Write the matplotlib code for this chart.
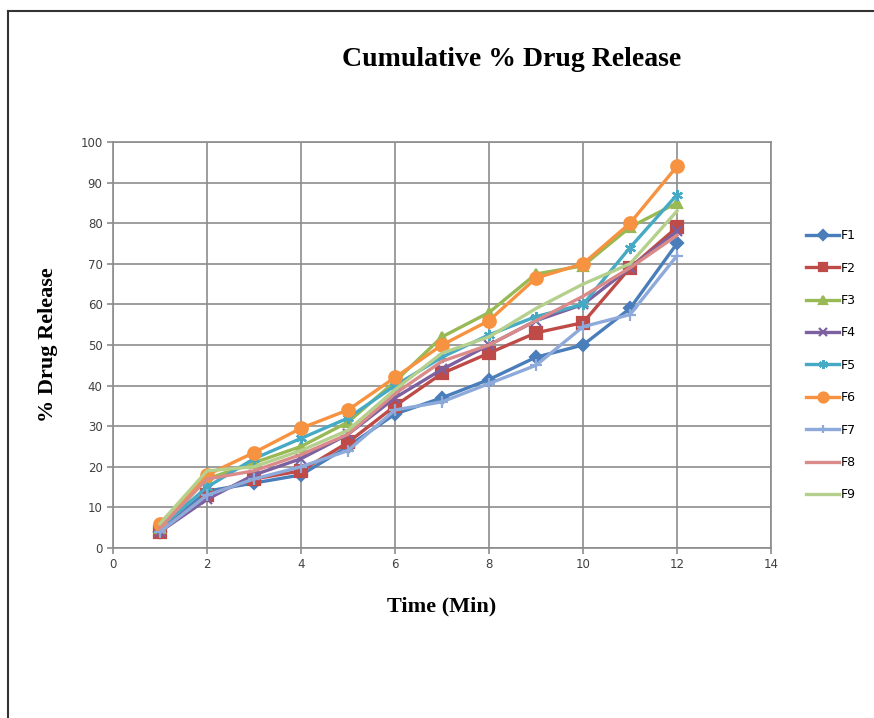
import matplotlib
matplotlib.use("Agg")
import matplotlib.pyplot as plt
from matplotlib.lines import Line2D

# release data
time_min = [1, 2, 3, 4, 5, 6, 7, 8, 9, 10, 11, 12]
f1 = [4, 14, 16, 18, 25, 33, 37, 41.5, 47, 50, 59, 75]
f2 = [4, 13, 17, 19, 26, 35, 43, 48, 53, 55.5, 69, 79]
f3 = [5, 17, 21, 25, 31, 41, 52, 58, 67.5, 69.5, 79, 85]
f4 = [4, 12, 18, 22, 28, 37, 44, 50, 56, 60, 69, 78]
f5 = [5, 15, 22, 27, 32, 40, 47, 52.5, 57, 60, 74, 87]
f6 = [6, 18, 23.5, 29.5, 34, 42, 50, 56, 66.5, 70, 80, 94]
f7 = [4, 13, 17, 20, 24, 34, 36, 40.5, 45, 54.5, 57.5, 72]
f8 = [5, 17, 19, 23, 28, 38, 46, 50, 56, 62, 69, 77]
f9 = [6, 19, 20, 24, 29, 39, 48, 52, 59, 65, 70, 83]
series_names = ["F1", "F2", "F3", "F4", "F5", "F6", "F7", "F8", "F9"]
x_ticks = [0, 2, 4, 6, 8, 10, 12, 14]
y_ticks = [0, 10, 20, 30, 40, 50, 60, 70, 80, 90, 100]

series = [f1, f2, f3, f4, f5, f6, f7, f8, f9]
colors = ['#4A7EBB', '#BE4B48', '#98B954', '#7D60A0', '#46AAC5',
          '#F69240', '#8EAADB', '#DA8B89', '#B5D08C']
markers = ['D', 's', '^', 'x', (6, 2, 0), 'o', '+', None, None]
msizes = [6, 8, 7, 7, 8, 9, 8, 0, 0]

fig = plt.figure(figsize=(8.74, 7.18), dpi=100)
ax = fig.add_axes([113 / 874, 1 - 548 / 718, (771 - 113) / 874, (548 - 142) / 718])

for name, vals, c, m, ms in zip(series_names, series, colors, markers, msizes):
    ax.plot(time_min, vals, color=c, linewidth=2.4, marker=m, markersize=ms,
            markeredgewidth=1.6, label=name, zorder=3)

ax.set_xlim(0, 14)
ax.set_ylim(0, 100)
ax.set_xticks(x_ticks)
ax.set_yticks(y_ticks)
ax.grid(True, color='#8C8C8C', linewidth=1.2)
ax.set_axisbelow(True)
for s in ax.spines.values():
    s.set_color('#8C8C8C')
    s.set_linewidth(1.2)
ax.tick_params(colors='#8C8C8C', labelcolor='#404040', labelsize=8.5, length=4, width=1.2)
for lbl in ax.get_xticklabels() + ax.get_yticklabels():
    lbl.set_family('DejaVu Sans')

serif = 'Liberation Serif'
fig.text(512 / 874, 1 - 60 / 718, "Cumulative % Drug Release", ha='center', va='center',
         fontsize=20, fontweight='bold', family=serif)
ax.set_xlabel("Time (Min)", fontsize=16, fontweight='bold', family=serif, labelpad=18)
ax.set_ylabel("% Drug Release", fontsize=16, fontweight='bold', family=serif, labelpad=16)

leg = ax.legend(loc='upper left', bbox_to_anchor=(795 / 874, 1 - 218 / 718),
                bbox_transform=fig.transFigure, frameon=False, fontsize=9,
                handlelength=2.6, handletextpad=0.2, labelspacing=1.55,
                markerscale=0.8)

# outer chart border (cropped on right/bottom)
fig.add_artist(Line2D([8 / 874, 1.0], [1 - 11 / 718, 1 - 11 / 718], color='#333333', linewidth=1.5))
fig.add_artist(Line2D([8 / 874, 8 / 874], [0, 1 - 11 / 718], color='#333333', linewidth=1.5))

fig.savefig("out.png", dpi=100)
